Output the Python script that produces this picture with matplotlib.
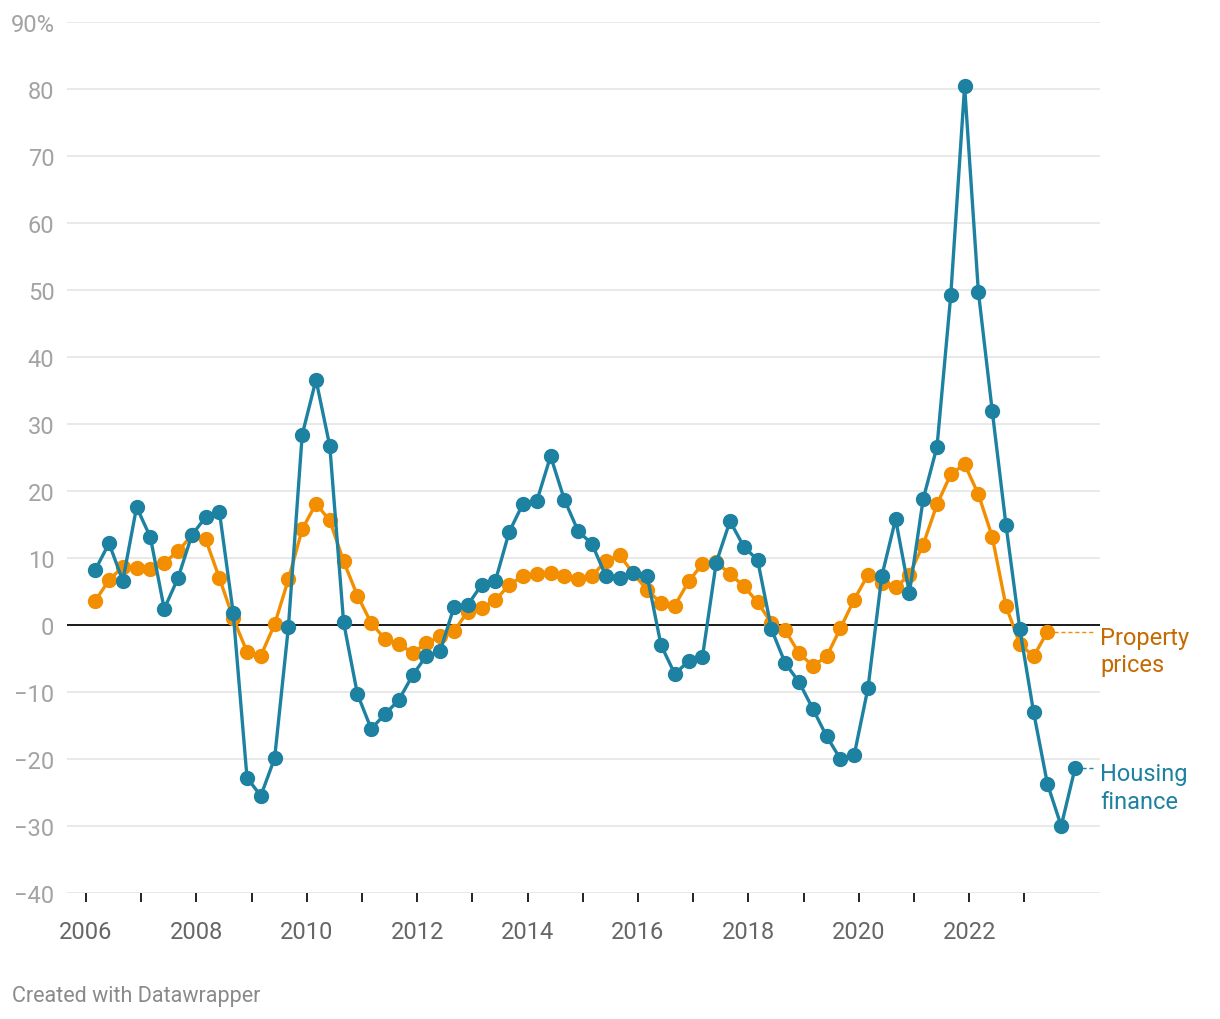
import numpy as np
import matplotlib.pyplot as plt

plt.rcParams['font.family'] = ['Roboto', 'DejaVu Sans']

# quarterly growth rates in %, 2006 Q1 onwards
housing_finance = [
    8.2, 12.2, 6.6, 17.6, 13.1, 2.4, 7.0, 13.4, 16.1, 16.9, 1.8, -22.8,
    -25.5, -19.9, -0.3, 28.4, 36.6, 26.7, 0.4, -10.3, -15.5, -13.3, -11.2, -7.5,
    -4.6, -3.9, 2.7, 3.0, 6.0, 6.6, 13.9, 18.1, 18.5, 25.2, 18.7, 14.0,
    12.1, 7.3, 7.0, 7.8, 7.3, -3.0, -7.3, -5.4, -4.8, 9.3, 15.5, 11.7,
    9.7, -0.6, -5.7, -8.5, -12.5, -16.6, -20.0, -19.4, -9.4, 7.3, 15.8, 4.8,
    18.8, 26.6, 49.3, 80.4, 49.7, 32.0, 14.9, -0.6, -13.0, -23.7, -30.0, -21.4,
]
property_prices = [
    3.6, 6.7, 8.7, 8.5, 8.3, 9.3, 11.0, 13.4, 12.8, 7.0, 1.0, -4.0,
    -4.6, 0.1, 6.8, 14.3, 18.1, 15.6, 9.5, 4.4, 0.3, -2.1, -2.8, -4.2,
    -2.7, -1.7, -0.9, 2.0, 2.5, 3.7, 6.0, 7.3, 7.6, 7.7, 7.3, 6.8,
    7.3, 9.6, 10.4, 7.7, 5.2, 3.3, 2.9, 6.5, 9.1, 9.4, 7.6, 5.8,
    3.4, 0.3, -0.8, -4.2, -6.1, -4.7, -0.5, 3.8, 7.5, 6.2, 5.6, 7.5,
    12.0, 18.0, 22.5, 24.0, 19.5, 13.2, 2.8, -2.8, -4.7, -1.0,
]
first_year = 2006
quarter_month = [3, 6, 9, 12]

y_ticks = list(range(-40, 91, 10))
x_years = list(range(2006, 2024))

blue = '#1d81a2'
orange = '#f28e00'


def quarter_times(n):
    return np.array([first_year + i // 4 + (quarter_month[i % 4] - 1) / 12 for i in range(n)])


t_hf = quarter_times(len(housing_finance))
t_pp = quarter_times(len(property_prices))

fig = plt.figure(figsize=(12.2, 10.2), dpi=100)
ax = fig.add_axes([67 / 1220, 126 / 1020, (1100 - 67) / 1220, 871 / 1020])

ax.set_ylim(-40, 90)
ax.set_xlim(2006 - 19 / 55.2, 2006 + 1014 / 55.2)

for v in y_ticks:
    ax.axhline(v, color='#e3e3e3', lw=1.1, zorder=0)
ax.axhline(0, color='#1a1a1a', lw=1.4, zorder=1)

ax.plot(t_pp, property_prices, color=orange, lw=2.4, marker='o', ms=10, zorder=2)
ax.plot(t_hf, housing_finance, color=blue, lw=2.4, marker='o', ms=10, zorder=3)

# labels at the end of the lines
ax.plot([t_pp[-1], ax.get_xlim()[1] - 0.1], [property_prices[-1]] * 2, color=orange,
        lw=1, ls=(0, (3, 2)), zorder=1)
ax.plot([t_hf[-1], ax.get_xlim()[1] - 0.1], [housing_finance[-1]] * 2, color=blue,
        lw=1, ls=(0, (3, 2)), zorder=1)
ax.annotate('Property\nprices', xy=(1.0, property_prices[-1]),
            xycoords=('axes fraction', 'data'), xytext=(0, 6), textcoords='offset pixels',
            va='top', ha='left', fontsize=17, color='#c56a00', linespacing=1.25)
ax.annotate('Housing\nfinance', xy=(1.0, housing_finance[-1]),
            xycoords=('axes fraction', 'data'), xytext=(0, 6), textcoords='offset pixels',
            va='top', ha='left', fontsize=17, color=blue, linespacing=1.25)

ax.set_yticks(y_ticks)
ax.set_yticklabels([('90%' if v == 90 else str(v).replace('-', '\u2212')) for v in y_ticks])
ax.tick_params(axis='y', length=0, pad=9, labelsize=17, labelcolor='#a3a3a3')

ax.set_xticks(x_years)
ax.set_xticklabels([str(y) if y % 2 == 0 else '' for y in x_years])
ax.tick_params(axis='x', length=6.5, width=1.4, color='#222222', pad=13,
               labelsize=17, labelcolor='#666666')

for s in ax.spines.values():
    s.set_visible(False)

fig.text(12 / 1220, 1 - 997 / 1020, 'Created with Datawrapper', fontsize=15.5,
         color='#8a8a8a', va='center', ha='left')

fig.savefig('out.png', dpi=100)
